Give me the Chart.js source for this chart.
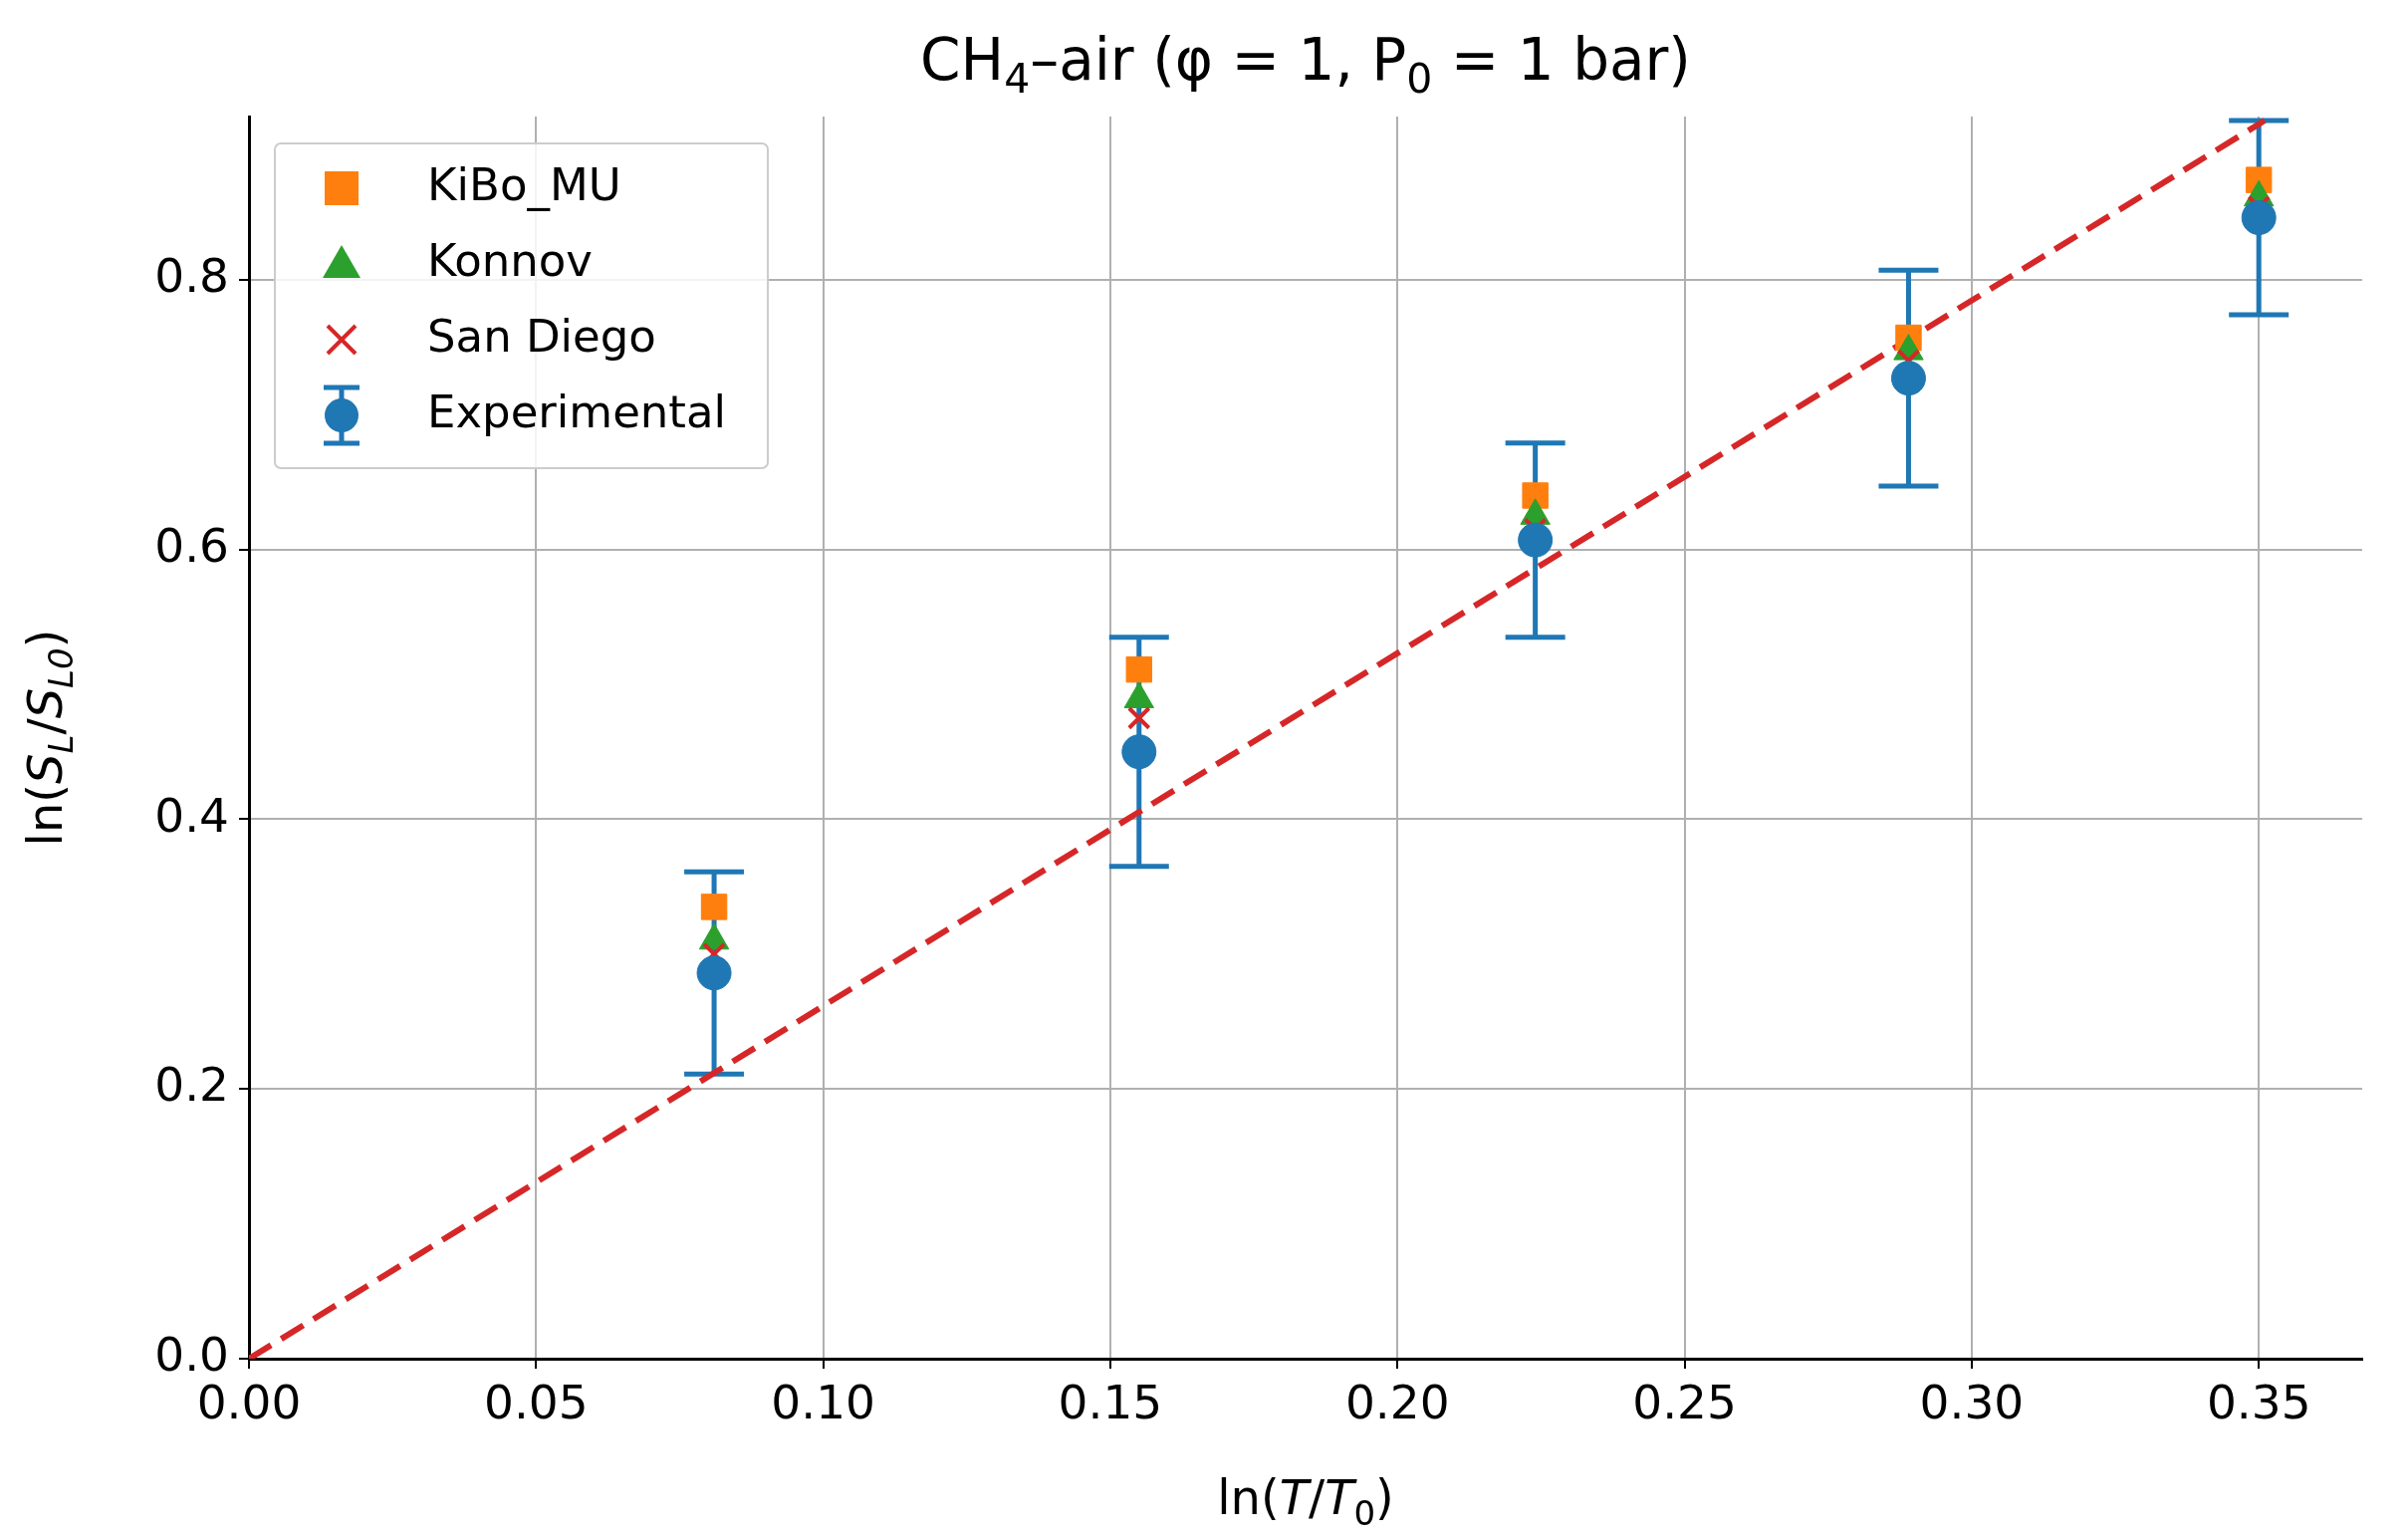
<!DOCTYPE html>
<html>
<head>
<meta charset="utf-8">
<script src="https://cdn.jsdelivr.net/npm/chart.js@4.4.1/dist/chart.umd.min.js"></script>
<style>
  html, body { margin: 0; padding: 0; background: #fff; }
  canvas { display: block; }
</style>
</head>
<body>
<canvas id="c" width="2418" height="1545"></canvas>
<script>
// ===== DATA =====
const lnT = [0.081, 0.155, 0.224, 0.289, 0.350];
const expY = [0.286, 0.450, 0.607, 0.727, 0.846];
const expErr = [0.075, 0.085, 0.072, 0.080, 0.072];
const kiboY = [0.335, 0.511, 0.640, 0.757, 0.874];
const konnovY = [0.310, 0.489, 0.625, 0.747, 0.861];
const sanDiegoY = [0.300, 0.475, 0.615, 0.740, 0.854];
const fitX = [0, 0.351];
const fitY = [0, 0.918];
const xTicks = [0, 0.05, 0.10, 0.15, 0.20, 0.25, 0.30, 0.35];
const yTicks = [0, 0.2, 0.4, 0.6, 0.8];

const BLUE = "#1f77b4", ORANGE = "#ff7f0e", GREEN = "#2ca02c", RED = "#d62728";
const FONT = "'DejaVu Sans', sans-serif";
const pts = (ys) => lnT.map((x, i) => ({ x, y: ys[i] }));

// ===== PLUGINS =====
const errorBars = {
  id: "errorBars",
  beforeDatasetsDraw(chart) {
    const { ctx, scales: { x, y } } = chart;
    ctx.save();
    ctx.strokeStyle = BLUE; ctx.lineWidth = 5;
    lnT.forEach((v, i) => {
      const px = x.getPixelForValue(v);
      const top = y.getPixelForValue(expY[i] + expErr[i]);
      const bot = y.getPixelForValue(expY[i] - expErr[i]);
      ctx.beginPath();
      ctx.moveTo(px, top); ctx.lineTo(px, bot);
      ctx.moveTo(px - 30, top); ctx.lineTo(px + 30, top);
      ctx.moveTo(px - 30, bot); ctx.lineTo(px + 30, bot);
      ctx.stroke();
    });
    ctx.restore();
  }
};

function drawRich(ctx, parts, x, y, align, size) {
  // parts: [text, italic, sub]
  const fontOf = (p) => (p[1] ? "italic " : "") + Math.round(p[2] ? size * 0.7 : size) + "px " + FONT;
  let w = 0;
  parts.forEach(p => { ctx.font = fontOf(p); w += ctx.measureText(p[0]).width; });
  let cx = align === "center" ? x - w / 2 : x;
  ctx.textBaseline = "alphabetic"; ctx.textAlign = "left";
  parts.forEach(p => {
    ctx.font = fontOf(p);
    ctx.fillText(p[0], cx, p[2] ? y + size * 0.22 : y);
    cx += ctx.measureText(p[0]).width;
  });
}

const decorations = {
  id: "decorations",
  afterDraw(chart) {
    const { ctx, chartArea: a } = chart;
    ctx.save();
    ctx.fillStyle = "#000";
    // title
    drawRich(ctx, [["CH", 0, 0], ["4", 0, 1], ["\u2013air (\u03c6 = 1, P", 0, 0], ["0", 0, 1], [" = 1 bar)", 0, 0]],
      (a.left + a.right) / 2, 80, "center", 58);
    // x label
    drawRich(ctx, [["ln(", 0, 0], ["T", 1, 0], ["/", 0, 0], ["T", 1, 0], ["0", 0, 1], [")", 0, 0]],
      (a.left + a.right) / 2, 1520, "center", 48);
    // y label
    ctx.translate(62, (a.top + a.bottom) / 2);
    ctx.rotate(-Math.PI / 2);
    drawRich(ctx, [["ln(", 0, 0], ["S", 1, 0], ["L", 1, 1], ["/", 0, 0], ["S", 1, 0], ["L0", 1, 1], [")", 0, 0]],
      0, 0, "center", 48);
    ctx.restore();

    // legend
    ctx.save();
    const bx = 276, by = 144, bw = 495, bh = 326;
    ctx.fillStyle = "rgba(255,255,255,0.85)";
    ctx.strokeStyle = "#ccc"; ctx.lineWidth = 2;
    ctx.beginPath(); ctx.roundRect(bx, by, bw, bh, 6); ctx.fill(); ctx.stroke();
    const rows = [["KiBo_MU", "sq"], ["Konnov", "tri"], ["San Diego", "x"], ["Experimental", "exp"]];
    rows.forEach((r, i) => {
      const yy = 189 + i * 76, mx = 343;
      ctx.fillStyle = "#000"; ctx.font = "45px " + FONT; ctx.textAlign = "left"; ctx.textBaseline = "middle";
      ctx.fillText(r[0], 429, yy);
      if (r[1] === "sq") { ctx.fillStyle = ORANGE; ctx.fillRect(mx - 17, yy - 17, 34, 34); }
      if (r[1] === "tri") {
        ctx.fillStyle = GREEN; ctx.beginPath();
        ctx.moveTo(mx, yy - 19); ctx.lineTo(mx + 19, yy + 14); ctx.lineTo(mx - 19, yy + 14); ctx.closePath(); ctx.fill();
      }
      if (r[1] === "x") {
        ctx.strokeStyle = RED; ctx.lineWidth = 4; ctx.beginPath();
        ctx.moveTo(mx - 14, yy - 14); ctx.lineTo(mx + 14, yy + 14);
        ctx.moveTo(mx + 14, yy - 14); ctx.lineTo(mx - 14, yy + 14); ctx.stroke();
      }
      if (r[1] === "exp") {
        ctx.strokeStyle = BLUE; ctx.lineWidth = 5; ctx.beginPath();
        ctx.moveTo(mx, yy - 28); ctx.lineTo(mx, yy + 28);
        ctx.moveTo(mx - 18, yy - 28); ctx.lineTo(mx + 18, yy - 28);
        ctx.moveTo(mx - 18, yy + 28); ctx.lineTo(mx + 18, yy + 28); ctx.stroke();
        ctx.fillStyle = BLUE; ctx.beginPath(); ctx.arc(mx, yy, 17, 0, Math.PI * 2); ctx.fill();
      }
    });
    ctx.restore();
  }
};

// ===== CHART =====
new Chart(document.getElementById("c"), {
  type: "scatter",
  data: {
    datasets: [
      { label: "Fit", type: "line", data: fitX.map((x, i) => ({ x, y: fitY[i] })),
        borderColor: RED, borderWidth: 6, borderDash: [26, 12], pointRadius: 0, fill: false, order: 5 },
      { label: "KiBo_MU", data: pts(kiboY), pointStyle: "rect", pointRadius: 18,
        backgroundColor: ORANGE, borderColor: ORANGE, order: 4 },
      { label: "Konnov", data: pts(konnovY), pointStyle: "triangle", pointRadius: 17,
        backgroundColor: GREEN, borderColor: GREEN, order: 3 },
      { label: "San Diego", data: pts(sanDiegoY), pointStyle: "crossRot", pointRadius: 14,
        borderColor: RED, borderWidth: 4, order: 2 },
      { label: "Experimental", data: pts(expY), pointStyle: "circle", pointRadius: 17,
        backgroundColor: BLUE, borderColor: BLUE, order: 1 }
    ]
  },
  options: {
    responsive: false, animation: false,
    layout: { padding: { top: 117, right: 46, left: 0, bottom: 0 } },
    plugins: { legend: { display: false }, tooltip: { enabled: false } },
    scales: {
      x: {
        type: "linear", min: 0, max: 0.368,
        afterBuildTicks: (s) => { s.ticks = xTicks.map(v => ({ value: v })); },
        afterFit: (s) => { s.height = 181; },
        ticks: { color: "#000", font: { size: 47, family: FONT }, padding: 10, callback: (v) => v.toFixed(2) },
        grid: { color: "#b0b0b0", lineWidth: 2, tickLength: 10, tickColor: "#000" },
        border: { color: "#000", width: 3 }
      },
      y: {
        type: "linear", min: 0, max: 0.921,
        afterBuildTicks: (s) => { s.ticks = yTicks.map(v => ({ value: v })); },
        afterFit: (s) => { s.width = 250; },
        ticks: { color: "#000", font: { size: 47, family: FONT }, padding: 10, callback: (v) => v.toFixed(1) },
        grid: { color: "#b0b0b0", lineWidth: 2, tickLength: 10, tickColor: "#000" },
        border: { color: "#000", width: 3 }
      }
    }
  },
  plugins: [errorBars, decorations]
});
</script>
</body>
</html>
